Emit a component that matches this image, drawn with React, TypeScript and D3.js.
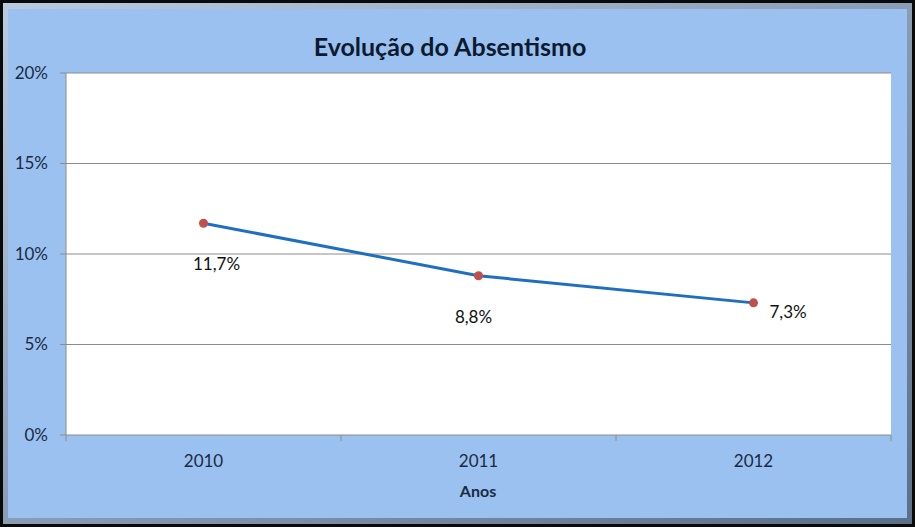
import React from "react";
import * as d3 from "d3";

const categories = ["2010", "2011", "2012"];
const values = [0.117, 0.088, 0.073];
const valueLabels = ["11,7%", "8,8%", "7,3%"];
const yTicks = [0, 0.05, 0.1, 0.15, 0.2];
const yTickLabels = ["0%", "5%", "10%", "15%", "20%"];
const labelPos = ["below", "below", "right"];

export default function App() {
  const W = 915, H = 527;
  const left = 66, right = 891, top = 73, bottom = 435;
  const x = d3.scaleBand().domain(categories).range([left, right]);
  const y = d3.scaleLinear().domain([0, 0.2]).range([bottom, top]);
  const line = d3.line<number>().x((_, i) => x(categories[i])! + x.bandwidth() / 2).y((d) => y(d));
  const font = "Lato, 'Open Sans', sans-serif";
  const txt = "#1b2a44";
  const catTicks = [...categories.map((c) => x(c)!), right];
  return (
    <svg width={W} height={H} style={{ position: "absolute", left: 0, top: 0 }} fontFamily={font}>
      <defs>
        <linearGradient id="bev" x1="0" y1="0" x2="1" y2="1">
          <stop offset="0" stopColor="#b9cbe0" />
          <stop offset="1" stopColor="#5a6f88" />
        </linearGradient>
      </defs>
      <rect x={0} y={0} width={W} height={H} fill="#0a0a0a" />
      <rect x={3} y={3} width={W - 6} height={H - 6} fill="url(#bev)" />
      <rect x={8} y={9} width={W - 16} height={H - 18} fill="#9ac1ef" />
      <rect x={left} y={top} width={right - left} height={bottom - top} fill="#ffffff" />
      {yTicks.map((t, i) => (
        <g key={i}>
          <line x1={left} x2={right} y1={y(t)} y2={y(t)} stroke="#8c8c8c" strokeWidth={1} />
          <line x1={left - 6} x2={left} y1={y(t)} y2={y(t)} stroke="#8c8c8c" strokeWidth={1} />
          <text x={left - 18} y={y(t)} dy="0.35em" textAnchor="end" fontSize={17} fill={txt}>
            {yTickLabels[i]}
          </text>
        </g>
      ))}
      <line x1={left} x2={left} y1={top} y2={bottom} stroke="#8c8c8c" />
      {catTicks.map((cx, i) => (
        <line key={i} x1={cx} x2={cx} y1={bottom} y2={bottom + 6} stroke="#8c8c8c" />
      ))}
      {categories.map((c) => (
        <text key={c} x={x(c)! + x.bandwidth() / 2} y={467} textAnchor="middle" fontSize={17} fill={txt}>
          {c}
        </text>
      ))}
      <text x={478} y={497} textAnchor="middle" fontSize={16} fontWeight="bold" fill={txt}>
        Anos
      </text>
      <text x={450} y={56} textAnchor="middle" fontSize={25} fontWeight="bold" fill="#0d1a30">
        Evolução do Absentismo
      </text>
      <path d={line(values)!} fill="none" stroke="#1f6fc0" strokeWidth={3} />
      {values.map((v, i) => {
        const cx = x(categories[i])! + x.bandwidth() / 2;
        const cy = y(v);
        return <circle key={i} cx={cx} cy={cy} r={4.5} fill="#c0504d" />;
      })}
      {values.map((v, i) => {
        const cx = x(categories[i])! + x.bandwidth() / 2;
        const cy = y(v);
        const below = labelPos[i] === "below";
        return (
          <text
            key={"l" + i}
            x={below ? cx + (i === 0 ? 13 : -5) : cx + 16}
            y={below ? cy + 47 : cy + 9}
            dy={below ? "0" : "0.35em"}
            textAnchor={below ? "middle" : "start"}
            fontSize={17}
            fill="#111"
          >
            {valueLabels[i]}
          </text>
        );
      })}
    </svg>
  );
}
